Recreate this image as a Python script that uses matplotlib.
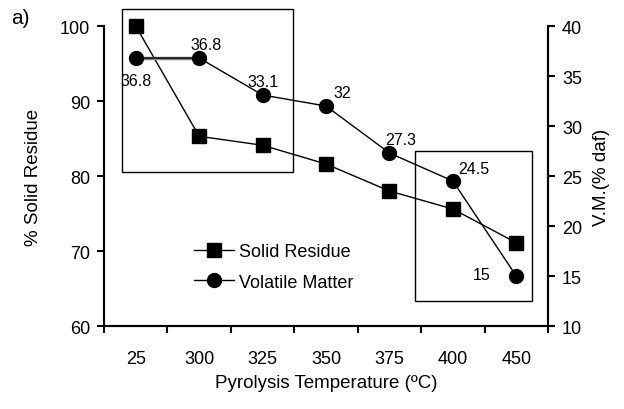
import matplotlib
matplotlib.use("Agg")
import matplotlib.pyplot as plt
from matplotlib.patches import Rectangle

plt.rcParams['font.family'] = ['Liberation Sans', 'DejaVu Sans']

## Data ####################################################

temps = ['25', '300', '325', '350', '375', '400', '450']
solid_residue = [100, 85.3, 84.1, 81.6, 78.0, 75.6, 71.1]
volatile_matter = [36.8, 36.8, 33.1, 32.0, 27.3, 24.5, 15.0]
vm_labels = ['36.8', '36.8', '33.1', '32', '27.3', '24.5', '15']

## Plot ####################################################

fig = plt.figure(figsize=(6.24, 4.10), dpi=100)
ax = fig.add_axes([0.1667, 0.2024, 0.7115, 0.7317])
ax2 = ax.twinx()

x = list(range(len(temps)))

ax.plot(x, solid_residue, color='black', lw=1, marker='s', ms=10,
        label='Solid Residue', clip_on=False, zorder=3)
# first volatile segment is drawn greyish and heavier in the original
ax2.plot(x[:2], volatile_matter[:2], color='#888888', lw=2.5, zorder=2)
ax2.plot(x, volatile_matter, color='black', lw=1, marker='o', ms=10,
         label='Volatile Matter', clip_on=False, zorder=3)

ax.set_xlim(-0.5, len(temps) - 0.5)
ax.set_ylim(60, 100)
ax2.set_ylim(10, 40)
ax.set_yticks([60, 70, 80, 90, 100])
ax2.set_yticks([10, 15, 20, 25, 30, 35, 40])

# categories sit between the ticks
ax.set_xticks([i - 0.5 for i in range(len(temps) + 1)])
ax.set_xticklabels([])
ax.set_xticks(x, minor=True)
ax.set_xticklabels(temps, minor=True)
ax.tick_params(axis='x', which='minor', length=0, pad=17)
ax.tick_params(axis='x', which='major', length=5, width=1.5, direction='out')

for a in (ax, ax2):
    a.spines['top'].set_visible(False)
    for s in ('left', 'right', 'bottom'):
        a.spines[s].set_linewidth(1.5)
    a.tick_params(labelsize=13)
ax.tick_params(axis='y', length=5, width=1.5, pad=5)
ax2.tick_params(axis='y', length=5, width=1.5, pad=5)
ax.tick_params(axis='x', which='minor', labelsize=13)

ax.set_ylabel('% Solid Residue', fontsize=13.5, labelpad=13)
ax2.set_ylabel('V.M.(% daf)', fontsize=13.5, labelpad=8)
ax.set_xlabel('Pyrolysis Temperature (ºC)', fontsize=13.5, labelpad=5)

# value labels on volatile matter
offsets = [(0, -16), (5, 10), (0, 10), (12, 10), (8, 10), (15, 9), (-25, 1)]
for xi, yi, txt, off in zip(x, volatile_matter, vm_labels, offsets):
    ax2.annotate(txt, (xi, yi), xytext=off, textcoords='offset points',
                 ha='center', va='center', fontsize=11.5)

# highlight boxes
ax.add_patch(Rectangle((-0.22, 80.5), 2.7, 21.8, fill=False, lw=1,
                       edgecolor='black', clip_on=False, zorder=2))
ax.add_patch(Rectangle((4.4, 63.3), 1.85, 20.0, fill=False, lw=1,
                       edgecolor='black', clip_on=False, zorder=2))

h1, l1 = ax.get_legend_handles_labels()
h2, l2 = ax2.get_legend_handles_labels()
ax2.legend(h1 + h2, l1 + l2, loc='center left', bbox_to_anchor=(0.186, 0.197),
           frameon=False, fontsize=13, handlelength=2.2, handletextpad=0.3,
           labelspacing=0.75, borderaxespad=0)

fig.text(0.018, 0.955, 'a)', fontsize=15, va='center')

fig.savefig('out.png', dpi=100)
